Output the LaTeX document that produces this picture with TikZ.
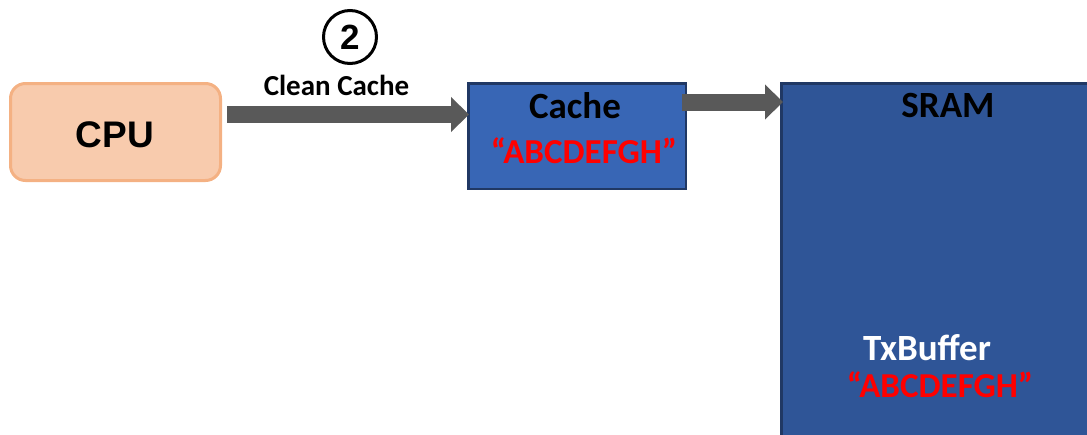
\documentclass[tikz,border=0pt]{standalone}
\usepackage{fontspec}
\setmainfont{Carlito}
\newfontfamily\arialfont{Liberation Sans}
\usetikzlibrary{arrows.meta}
\definecolor{cpufill}{HTML}{F8CBAD}
\definecolor{cpuline}{HTML}{F4B183}
\definecolor{cachefill}{HTML}{3866B5}
\definecolor{sramfill}{HTML}{2F5597}
\definecolor{boxline}{HTML}{203864}
\definecolor{arrowgray}{HTML}{595959}
\tikzset{
  box/.style={draw, inner sep=0pt, line width=3pt},
  bigarrow/.style={draw=arrowgray, line width=17pt, -{Triangle[length=18pt,width=34pt]}},
  title/.style={anchor=base, font=\fontsize{37}{40}\selectfont\bfseries},
  datatext/.style={anchor=base, text=red, font=\fontsize{35}{38}\selectfont\bfseries},
}
\begin{document}
\begin{tikzpicture}[x=1pt, y=-1pt]
  \clip (0, 0) rectangle (1087, 434);
  \useasboundingbox (0, 0) rectangle (1087, 434);
  % boxes
  \node[box, fill=cpufill, draw=cpuline, rounded corners=15pt,
    minimum width=210pt, minimum height=97pt] (cpu) at (115.5, 132) {};
  \node[box, fill=cachefill, draw=boxline, line width=2.5pt,
    minimum width=217.5pt, minimum height=105.5pt] (cache) at (577, 136) {};
  \node[box, fill=sramfill, draw=boxline,
    minimum width=320pt, minimum height=370pt] (sram) at (941.5, 268.5) {};
  % texts
  \node[anchor=base, font=\arialfont\fontsize{37}{40}\selectfont\bfseries] (cputext) at (115, 147) {CPU};
  \node[title] (cachetext) at (575, 118) {Cache};
  \node[datatext] (cachedata) at (584, 163) {“ABCDEFGH”};
  \node[title] (sramtext) at (948, 117) {SRAM};
  \node[title, text=white] (txbuf) at (927, 360) {TxBuffer};
  \node[datatext] (txdata) at (940, 397) {“ABCDEFGH”};
  % step marker
  \node[circle, draw, line width=3pt, minimum size=53pt, inner sep=0pt,
    font=\arialfont\fontsize{35}{38}\selectfont\bfseries] (steptwo) at (350, 37) {2};
  \node[anchor=base, font=\fontsize{29}{32}\selectfont\bfseries] (cleanlbl) at (336.5, 95) {Clean Cache};
  % arrows
  \draw[bigarrow] ([xshift=5pt, yshift=17.5pt]cpu.east) -- ([xshift=2pt, yshift=17.5pt]cpu.east -| cache.west);
  \draw[bigarrow] ([xshift=-5pt, yshift=34pt]cache.east) -- ([xshift=3pt, yshift=34pt]cache.east -| sram.west);
\end{tikzpicture}
\end{document}
